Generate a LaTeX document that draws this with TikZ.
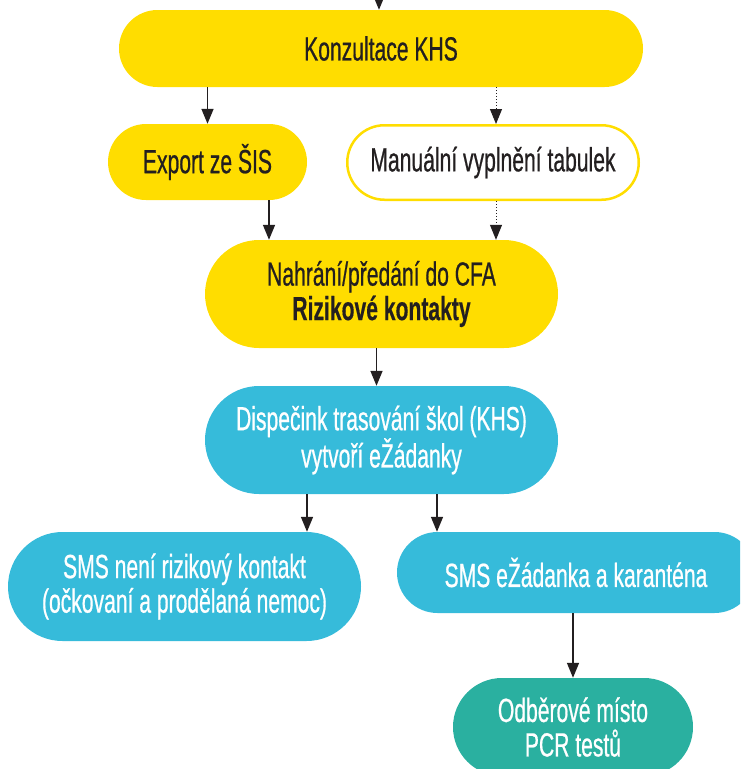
\documentclass[tikz,border=0pt]{standalone}
\usepackage{fontspec}
\setmainfont{Liberation Sans}[FakeStretch=0.63,
  UprightFeatures={FakeBold=0.6},BoldFeatures={FakeBold=0.3}]
\usetikzlibrary{arrows.meta}
\definecolor{khsyellow}{RGB}{255,221,0}
\definecolor{khsblue}{RGB}{54,187,218}
\definecolor{khsteal}{RGB}{42,176,160}
\definecolor{khsink}{RGB}{35,31,32}

\begin{document}
\begin{tikzpicture}
    [x=1pt,y=-1pt,
     every node/.style={rectangle,inner sep=0pt,align=center,
       font=\fontsize{33.5}{34.5}\selectfont},
     pill/.style={rounded corners=#1,minimum height=2*#1},
     yellowbox/.style={fill=khsyellow,text=khsink},
     openbox/.style={draw=khsyellow,line width=2.5pt,fill=white,text=khsink},
     bluebox/.style={fill=khsblue,text=white},
     tealbox/.style={fill=khsteal,text=white},
     arr/.style={-{Triangle[length=15pt,width=12pt]},line width=1.5pt,draw=khsink},
     darr/.style={arr,line width=1pt,dotted}]
    \clip (0,0) rectangle (740,769);
    \node[yellowbox,pill=38.5pt,minimum width=524pt] (konz) at (381,48.5) {Konzultace KHS};
    \node[yellowbox,pill=38pt,minimum width=199pt] (export) at (207.5,162) {Export ze ŠIS};
    \node[openbox,pill=37.25pt,minimum width=291.5pt] (manual) at (493,162.5) {Manuální vyplnění tabulek};
    \node[yellowbox,pill=54pt,minimum width=353pt] (nahr) at (381.5,294) {Nahrání/předání do CFA\\\textbf{Rizikové kontakty}};
    \node[bluebox,pill=54pt,minimum width=353pt] (disp) at (381.5,440) {Dispečink trasování škol (KHS)\\vytvoří eŽádanky};
    \node[bluebox,pill=54.5pt,minimum width=353pt] (smsne) at (184.5,586.5) {SMS není rizikový kontakt\\(očkovaní a prodělaná nemoc)};
    \node[bluebox,pill=40.5pt,minimum width=358pt] (smsez) at (576,572.5) {SMS eŽádanka a karanténa};
    \node[tealbox,pill=49pt,minimum width=240pt] (odb) at (573,727) {Odběrové místo\\PCR testů};
    \coordinate (in) at (379,-10);
    \draw[arr] (in) -- (in |- konz.north);
    \draw[arr] (export.north |- konz.south) -- (export.north);
    \draw[darr] ([xshift=3pt]manual.north |- konz.south) -- ([xshift=3pt]manual.north);
    \draw[arr] ([xshift=61.5pt]export.south) -- ([xshift=61.5pt]export.south |- nahr.north);
    \draw[darr] ([xshift=3pt]manual.south) -- ([xshift=3pt]manual.south |- nahr.north);
    \draw[arr] ([xshift=-5pt]nahr.south) -- ([xshift=-5pt]disp.north);
    \draw[arr] ([xshift=-74.5pt]disp.south) -- ([xshift=-74.5pt]disp.south |- smsne.north);
    \draw[arr] ([xshift=55.5pt]disp.south) -- ([xshift=55.5pt]disp.south |- smsez.north);
    \draw[arr] (odb.north |- smsez.south) -- (odb.north);
  \end{tikzpicture}
\end{document}
